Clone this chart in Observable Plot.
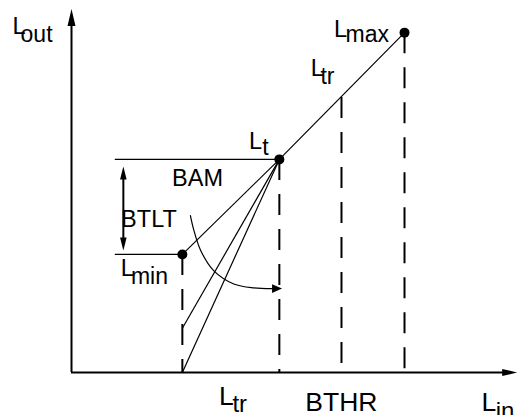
<!DOCTYPE html>
<html>
<head>
<meta charset="utf-8">
<script src="https://cdn.jsdelivr.net/npm/d3@7"></script>
<script src="https://cdn.jsdelivr.net/npm/@observablehq/plot@0.6"></script>
<style>
  html, body { margin: 0; padding: 0; background: #fff; }
  #chart svg { display: block; }
</style>
</head>
<body>
<div id="chart"></div>
<script>
// ---- Data (abstract level units: L_in 0..100, L_out 0..100) ----
const keyNames = ["Lmin", "Lt", "LtrAtBTHR", "Lmax"];
const keyLin  = [24.8, 46.5, 60.4, 74.5];
const keyLout = [32.8, 59.2, 76.4, 94.4];
const dotNames = ["Lmin", "Lt", "Lmax"];
// alternative (steeper) transfer-curve start levels at L_in = Ltr
const altStartLout = [32.8, 12.3, 0];
// level guides (horizontal) start
const guideStartLin = 9.8;
// BTLT double arrow
const bamArrowLin = 11.6;
const bamArrowLout = [57.2, 33.9];
// BTLT curved arrow path
const curveLin  = [26.6, 27.4, 28.9, 31.8, 36.3, 40.8, 44.9, 47.1];
const curveLout = [43.6, 39.4, 33.9, 28.3, 24.6, 23.5, 23.3, 23.3];
// axes extent
const axisLinMax = 99.7;
const axisLoutMax = 101;

// labels: main text, subscript, positions (data units)
const labelMain = ["L", "L", "L", "L", "BAM", "BTLT", "L", "L", "BTHR", "L"];
const labelSub  = ["out", "max", "tr", "t", "", "", "min", "tr", "", "in"];
const labelX    = [-13.2, 58.7, 53.5, 39.7, 22.5, 11.1, 11.0, 33.0, 52.3, 91.7];
const labelY    = [93.9, 93.1, 82.5, 62.1, 51.9, 40.4, 26.9, -8.9, -10.6, -10.6];
const subX      = [-11.4, 61.3, 55.7, 42.7, null, null, 13.3, 36.0, null, 94.9];
const subY      = [91.7, 91.75, 80.2, 60.3, null, null, 24.6, -11.0, null, -12.8];
const labelBig  = [false, false, false, false, false, false, false, true, true, true];

// ---- Build tables ----
const keys = keyNames.map((n, i) => ({name: n, x: keyLin[i], y: keyLout[i]}));
const K = Object.fromEntries(keys.map(k => [k.name, k]));
const dots = dotNames.map(n => K[n]);
const transfer = [
  ...altStartLout.map(v => ({x1: keyLin[0], y1: v, x2: K.Lt.x, y2: K.Lt.y})),
  {x1: K.Lt.x, y1: K.Lt.y, x2: K.Lmax.x, y2: K.Lmax.y}
];
const guides = [
  {x1: guideStartLin, x2: K.Lt.x, y: K.Lt.y},
  {x1: guideStartLin, x2: K.Lmin.x, y: K.Lmin.y}
];
const curve = curveLin.map((x, i) => ({x, y: curveLout[i]}));
const mains = labelMain.map((t, i) => ({t, x: labelX[i], y: labelY[i], big: labelBig[i]}));
const subs = labelSub.map((t, i) => ({t, x: subX[i], y: subY[i], big: labelBig[i]})).filter(d => d.t);

// custom filled arrowheads (origin at tip)
const head = (len, half, dir) => ({
  draw(ctx) {
    if (dir === "up")   { ctx.moveTo(0, 0); ctx.lineTo(half, len); ctx.lineTo(-half, len); }
    if (dir === "down") { ctx.moveTo(0, 0); ctx.lineTo(half, -len); ctx.lineTo(-half, -len); }
    if (dir === "right"){ ctx.moveTo(0, 0); ctx.lineTo(-len, -half); ctx.lineTo(-len, half); }
    ctx.closePath();
  }
});

const font = "'Liberation Sans', Arial, Helvetica, sans-serif";

const chart = Plot.plot({
  width: 518,
  height: 415,
  marginLeft: 71,
  marginRight: 0,
  marginTop: 12,
  marginBottom: 43,
  x: {domain: [0, 100], axis: null},
  y: {domain: [0, 100], axis: null},
  style: {fontFamily: font, background: "#fff", overflow: "visible"},
  marks: [
    // axes
    Plot.ruleX([0], {y1: 0, y2: axisLoutMax - 2, stroke: "#000", strokeWidth: 2}),
    Plot.ruleY([0], {x1: 0, x2: axisLinMax - 2, stroke: "#000", strokeWidth: 2}),
    Plot.dot([{x: 0, y: axisLoutMax}], {x: "x", y: "y", symbol: head(17, 4, "up"), fill: "#000", stroke: null}),
    Plot.dot([{x: axisLinMax, y: 0}], {x: "x", y: "y", symbol: head(15, 3.6, "right"), fill: "#000", stroke: null}),
    // dashed verticals
    Plot.ruleX(keys, {x: "x", y1: "y", y2: 0, stroke: "#000", strokeWidth: 2, strokeDasharray: "21,14"}),
    // horizontal guides
    Plot.ruleY(guides, {y: "y", x1: "x1", x2: "x2", stroke: "#000", strokeWidth: 1.2}),
    // transfer lines
    Plot.link(transfer, {x1: "x1", y1: "y1", x2: "x2", y2: "y2", stroke: "#000", strokeWidth: 1.2}),
    // BAM double arrow
    Plot.ruleX([bamArrowLin], {y1: bamArrowLout[1] + 2, y2: bamArrowLout[0] - 2, stroke: "#000", strokeWidth: 2}),
    Plot.dot([{x: bamArrowLin, y: bamArrowLout[0]}], {x: "x", y: "y", symbol: head(13, 3.3, "up"), fill: "#000", stroke: null}),
    Plot.dot([{x: bamArrowLin, y: bamArrowLout[1]}], {x: "x", y: "y", symbol: head(13, 3.3, "down"), fill: "#000", stroke: null}),
    // BTLT curved arrow
    Plot.line(curve.slice(0, -1), {x: "x", y: "y", curve: "catmull-rom", stroke: "#000", strokeWidth: 1.2}),
    Plot.dot([curve[curve.length - 1]], {x: "x", y: "y", symbol: head(10, 4.3, "right"), fill: "#000", stroke: null}),
    // key points
    Plot.dot(dots, {x: "x", y: "y", r: 5, fill: "#000", stroke: null}),
    // labels
    Plot.text(mains, {x: "x", y: "y", text: "t", textAnchor: "start", lineAnchor: "bottom",
      fontSize: d => d.big ? 26.5 : 23.5, fill: "#000"}),
    Plot.text(subs, {x: "x", y: "y", text: "t", textAnchor: "start", lineAnchor: "bottom",
      fontSize: d => d.big ? 24 : 23, fill: "#000"})
  ]
});
document.getElementById("chart").appendChild(chart);
</script>
</body>
</html>
